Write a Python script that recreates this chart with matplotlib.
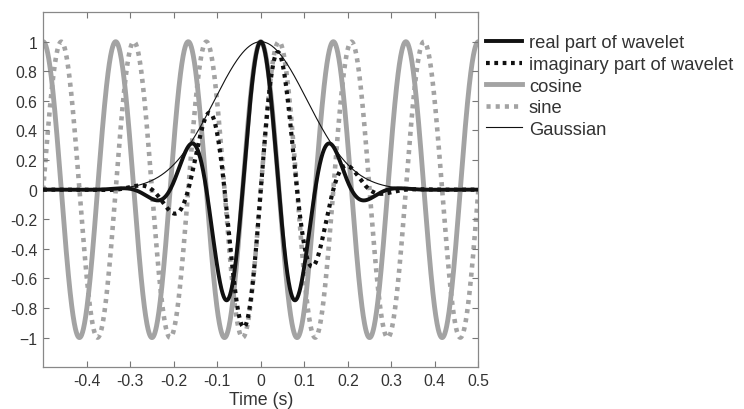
import numpy as np
import matplotlib.pyplot as plt

plt.rcParams['font.family'] = ['Liberation Sans', 'DejaVu Sans']

# values: 6 Hz carrier, gaussian of 4 cycles
freq = 6.0
n_cycles = 4
time_range = [-0.5, 0.5]

x_ticks = [-0.4, -0.3, -0.2, -0.1, 0, 0.1, 0.2, 0.3, 0.4, 0.5]
x_labels = ['-0.4', '-0.3', '-0.2', '-0.1', '0', '0.1', '0.2', '0.3', '0.4', '0.5']
y_ticks = [-1, -0.8, -0.6, -0.4, -0.2, 0, 0.2, 0.4, 0.6, 0.8, 1]
y_labels = ['\u22121', '-0.8', '-0.6', '-0.4', '-0.2', '0', '0.2', '0.4', '0.6', '0.8', '1']

labels = ['real part of wavelet', 'imaginary part of wavelet', 'cosine', 'sine', 'Gaussian']

GRAY = '#a3a3a3'
TXT = '#333333'


def main():
    t = np.linspace(time_range[0], time_range[1], 2001)
    s = n_cycles / (2 * np.pi * freq)
    gauss = np.exp(-t ** 2 / (2 * s ** 2))
    cosine = np.cos(2 * np.pi * freq * t)
    sine = np.sin(2 * np.pi * freq * t)

    fig = plt.figure(figsize=(7.44, 4.10), dpi=100)
    ax = fig.add_axes([0.058, 0.102, 0.585, 0.866])

    h_cos, = ax.plot(t, cosine, color=GRAY, lw=3.5, zorder=1)
    h_sin, = ax.plot(t, sine, color=GRAY, lw=3.3, dashes=(0.9, 1.1), zorder=1)
    h_gau, = ax.plot(t, gauss, color='#111111', lw=0.8, zorder=2)
    h_im, = ax.plot(t, sine * gauss, color='#111111', lw=3.0, dashes=(0.9, 1.1), zorder=3)
    h_re, = ax.plot(t, cosine * gauss, color='#111111', lw=2.8, zorder=4)

    ax.set_xlim(-0.5, 0.5)
    ax.set_ylim(-1.2, 1.2)
    ax.set_xticks(x_ticks)
    ax.set_xticklabels(x_labels)
    ax.set_yticks(y_ticks)
    ax.set_yticklabels(y_labels)
    ax.tick_params(direction='in', top=True, right=True, length=4, width=0.8,
                   color='#777777', labelsize=11.3, labelcolor=TXT, pad=4)
    for sp in ax.spines.values():
        sp.set_color('#888888')
        sp.set_linewidth(0.9)
    ax.set_xlabel('Time (s)', fontsize=12.8, color=TXT, labelpad=2)

    ax.legend([h_re, h_im, h_cos, h_sin, h_gau], labels, loc='upper left',
              bbox_to_anchor=(1.0, 0.958), frameon=False, fontsize=13.2,
              handlelength=2.0, handletextpad=0.35, labelspacing=0.25,
              borderaxespad=0, labelcolor=TXT)

    fig.savefig('out.png', dpi=100)


if __name__ == "__main__":
    main()
